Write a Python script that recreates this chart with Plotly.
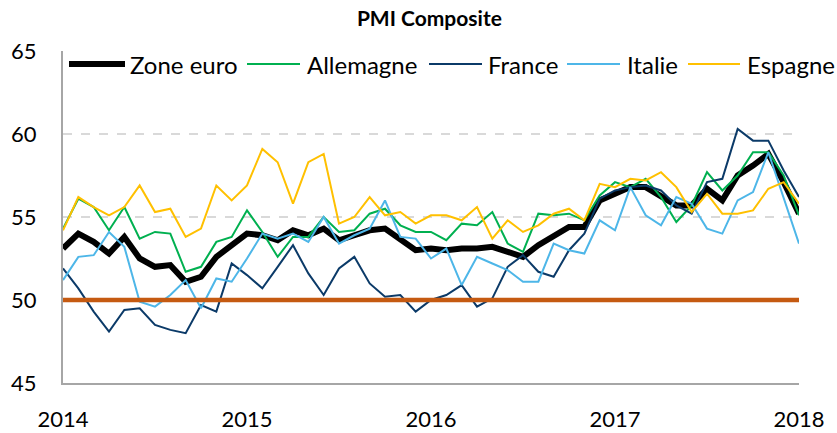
import plotly.graph_objects as go

# Monthly PMI composite readings (49 points spanning 2014 -> 2018)
zone_euro = [53.1, 54.0, 53.5, 52.8, 53.8, 52.5, 52.0, 52.1, 51.1, 51.4, 52.6, 53.3,
             54.0, 53.9, 53.6, 54.2, 53.9, 54.3, 53.6, 53.9, 54.2, 54.3, 53.6, 53.0,
             53.1, 53.0, 53.1, 53.1, 53.2, 52.9, 52.6, 53.3, 53.9, 54.4, 54.4, 56.0,
             56.4, 56.8, 56.8, 56.3, 55.7, 55.7, 56.7, 56.0, 57.5, 58.1, 58.8, 57.1, 55.2]
allemagne = [54.3, 56.1, 55.6, 54.2, 55.6, 53.7, 54.1, 54.0, 51.7, 52.0, 53.5, 53.8,
             55.4, 54.1, 52.6, 53.8, 53.8, 55.0, 54.1, 54.2, 55.2, 55.5, 54.5, 54.1,
             54.1, 53.6, 54.6, 54.5, 55.3, 53.4, 52.9, 55.2, 55.1, 55.2, 54.8, 56.3,
             57.1, 56.8, 57.3, 56.2, 54.7, 55.7, 57.7, 56.6, 57.5, 58.9, 58.9, 57.5, 55.1]
france = [51.9, 50.7, 49.3, 48.1, 49.4, 49.5, 48.5, 48.2, 48.0, 49.7, 49.3, 52.2,
          51.5, 50.7, 52.0, 53.3, 51.6, 50.3, 51.9, 52.6, 51.0, 50.2, 50.3, 49.3,
          50.0, 50.3, 50.9, 49.6, 50.1, 52.0, 52.7, 51.7, 51.4, 53.0, 54.0, 56.1,
          56.6, 56.8, 56.9, 56.6, 55.7, 55.2, 57.1, 57.3, 60.3, 59.6, 59.6, 57.8, 56.2]
italie = [51.2, 52.6, 52.7, 54.1, 53.2, 49.9, 49.6, 50.3, 51.2, 49.5, 51.3, 51.1,
          52.5, 54.0, 53.7, 54.0, 53.5, 55.0, 53.4, 53.9, 54.3, 56.0, 53.8, 53.7,
          52.5, 53.1, 50.9, 52.6, 52.2, 51.8, 51.1, 51.1, 53.4, 53.0, 52.8, 54.8,
          54.2, 56.8, 55.1, 54.5, 56.2, 55.8, 54.3, 54.0, 56.0, 56.5, 58.9, 56.2, 53.4]
espagne = [54.2, 56.2, 55.6, 55.1, 55.6, 56.9, 55.3, 55.5, 53.8, 54.3, 56.9, 56.0,
           56.9, 59.1, 58.3, 55.8, 58.3, 58.8, 54.6, 55.0, 56.2, 55.1, 55.3, 54.6,
           55.1, 55.1, 54.8, 55.6, 53.7, 54.8, 54.1, 54.5, 55.2, 55.5, 54.8, 57.0,
           56.8, 57.3, 57.2, 57.7, 56.8, 55.3, 56.4, 55.2, 55.2, 55.4, 56.7, 57.1, 55.8]
series_names = ["Zone euro", "Allemagne", "France", "Italie", "Espagne"]
tick_labels = ["2014", "2015", "2016", "2017", "2018"]
seuil = 50

months = list(range(len(zone_euro)))
tick_positions = months[::12]

colors = ["#000000", "#00B050", "#0B3A68", "#4DB6E8", "#FFC000"]
widths = [6, 2, 2, 2, 2]
data = [zone_euro, allemagne, france, italie, espagne]

# layout geometry (pixels)
W, H = 837, 433
ML, MR, MT, MB = 63, 38, 51, 50
PW, PH = W - ML - MR, H - MT - MB

def px_x(px):
    return (px - ML) / PW

def px_y(py):
    return (H - MB - py) / PH

# legend entry geometry: line start, line end, text start (pixels)
legend_geom = [(69, 125, 128), (247, 300, 305), (429, 482, 486), (567, 620, 625), (688, 740, 745)]
legend_row_y = 64

fig = go.Figure()
for name, vals, c, w in zip(series_names, data, colors, widths):
    fig.add_trace(go.Scatter(x=months, y=vals, mode="lines", name=name,
                             line=dict(color=c, width=w), showlegend=False))

fig.add_shape(type="line", xref="paper", x0=0, x1=1, yref="y", y0=seuil, y1=seuil,
              line=dict(color="#C55A11", width=4.5), layer="above")

font_family = "Lato"
for (x0, x1, xt), name, c, w in zip(legend_geom, series_names, colors, widths):
    fig.add_shape(type="line", xref="paper", yref="paper",
                  x0=px_x(x0), x1=px_x(x1), y0=px_y(legend_row_y), y1=px_y(legend_row_y),
                  line=dict(color=c, width=w), layer="above")
    fig.add_annotation(text=name, xref="paper", yref="paper", x=px_x(xt), y=px_y(legend_row_y),
                       xanchor="left", yanchor="middle", showarrow=False,
                       font=dict(family=font_family, size=24, color="#000000"))

fig.update_layout(
    width=W, height=H,
    margin=dict(l=ML, r=MR, t=MT, b=MB, autoexpand=False),
    paper_bgcolor="white", plot_bgcolor="white",
    title=dict(text="<b>PMI Composite</b>", x=0.513, xanchor="center", y=0.958, yanchor="middle",
               font=dict(family=font_family, size=21, color="#000000")),
    font=dict(family=font_family, size=22, color="#000000"),
    showlegend=False,
    xaxis=dict(range=[0, len(zone_euro) - 1], tickvals=tick_positions, ticktext=tick_labels,
               showgrid=False, zeroline=False, showline=True, linecolor="#A6A6A6", linewidth=2,
               ticks="", ticklabelstandoff=16, tickfont=dict(size=22), automargin=False),
    yaxis=dict(range=[45, 65], dtick=5, showgrid=True, gridcolor="#D9D9D9", griddash="dash",
               gridwidth=1.5, zeroline=False, showline=True, linecolor="#A6A6A6", linewidth=2,
               ticks="", ticklabelstandoff=20, tickfont=dict(size=22), automargin=False),
)

fig.write_html("out.html", config={"displayModeBar": False},
               post_script="document.body.style.margin='0';document.body.style.overflow='hidden';")
